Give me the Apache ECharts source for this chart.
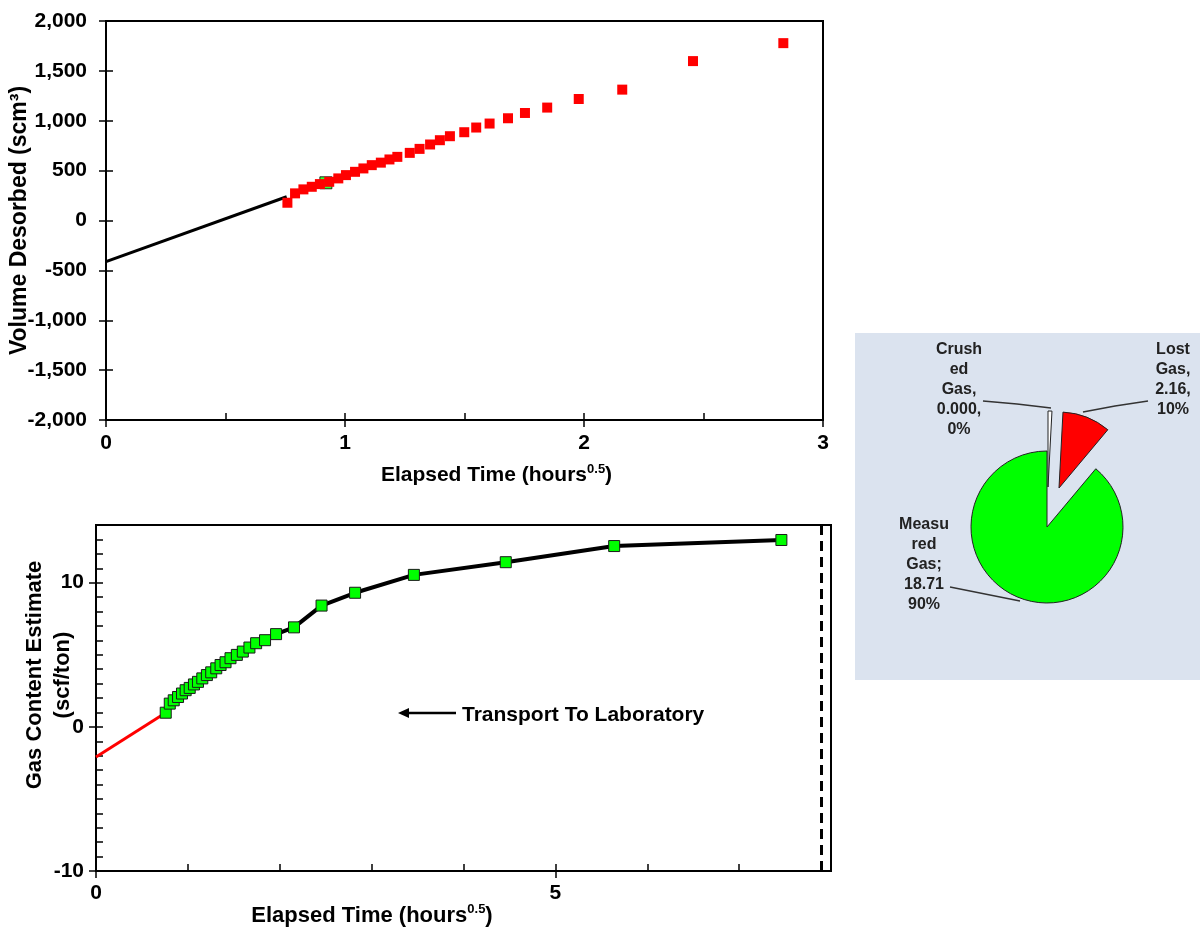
<!DOCTYPE html>
<html>
<head>
<meta charset="utf-8">
<script src="https://cdn.jsdelivr.net/npm/echarts@6/dist/echarts.min.js"></script>
<style>
  html, body { margin: 0; padding: 0; background: #fff; }
  #chart { width: 1200px; height: 931px; }
</style>
</head>
<body>
<div id="chart"></div>
<script>
// Desorption measurements (square root of elapsed time vs. volume desorbed)
const desorbTime = [0.759, 0.791, 0.826, 0.861, 0.895, 0.934, 0.972, 1.004, 1.042, 1.077,
  1.112, 1.150, 1.186, 1.219, 1.271, 1.312, 1.356, 1.397, 1.439, 1.499,
  1.549, 1.605, 1.682, 1.753, 1.846, 1.978, 2.160, 2.456, 2.834];
const desorbVolume = [178, 272, 312, 338, 365, 388, 422, 455, 488, 522,
  555, 580, 612, 638, 678, 718, 762, 805, 845, 885,
  932, 972, 1025, 1078, 1132, 1218, 1312, 1598, 1778];
// Lost-gas regression line back to time zero
const fitTime = [0, 0.756];
const fitVolume = [-412, 238];
// Highlighted point used by the fit
const pickedTime = [0.92];
const pickedVolume = [378];

// Cumulative gas content estimate
const contentTime = [0.759, 0.803, 0.846, 0.893, 0.936, 0.976, 1.020, 1.066, 1.110, 1.157,
  1.207, 1.254, 1.309, 1.356, 1.410, 1.464, 1.533, 1.598, 1.670, 1.743,
  1.840, 1.960, 2.155, 2.455, 2.820, 3.460, 4.460, 5.640, 7.460];
const contentValue = [0.98, 1.61, 1.84, 2.07, 2.31, 2.54, 2.70, 2.94, 3.12, 3.36,
  3.59, 3.78, 4.06, 4.29, 4.48, 4.76, 4.99, 5.22, 5.50, 5.80,
  6.01, 6.43, 6.90, 8.41, 9.30, 10.54, 11.42, 12.54, 12.96];
// Lost-gas extrapolation on the content plot
const lostTime = [0, 0.759];
const lostValue = [-2.1, 0.98];
// End of transport to laboratory
const transportEnd = 7.886;

// Tick values
const bottomXLabels = [0, 5];
const bottomYLabels = [-10, 0, 10];

// Gas content breakdown
const sliceNames = ['Crushed Gas', 'Lost Gas', 'Measured Gas'];
const sliceValues = [0, 2.16, 18.71];
const sliceColors = ['#ffffff', '#ff0000', '#00ff00'];
const sliceNameLines = [['Crush', 'ed', 'Gas,'], ['Lost', 'Gas,'], ['Measu', 'red', 'Gas;']];
const sliceDigits = [3, 2, 2];
const sliceValueSep = [',', ',', ''];

const pairs = (xs, ys) => xs.map((x, i) => [x, ys[i]]);

const FONT = "'Liberation Sans', Arial, sans-serif";
const bold = (size) => ({ fontFamily: FONT, fontWeight: 'bold', fontSize: size, color: '#000' });

const supRich = (size) => ({
  t: { fontFamily: FONT, fontWeight: 'bold', fontSize: size, color: '#000', lineHeight: size + 4 },
  s: { fontFamily: FONT, fontWeight: 'bold', fontSize: Math.round(size * 0.6), color: '#000', verticalAlign: 'top', lineHeight: size + 4 }
});

const tickStyle = { color: '#000', width: 1.5 };

// Pie slices are drawn one series each so the exploded ones can sit on their own centre
const PIE_R = 76;
const pieCenters = [[1048, 487], [1059, 488], [1047, 527]];
const labelSpots = [
  { x: 959, y: 390, pts: [[983, 401], [1017, 404], [1051, 408]] },
  { x: 1173, y: 380, pts: [[1148, 401], [1115, 406], [1083, 412]] },
  { x: 924, y: 565, pts: [[950, 587], [985, 594], [1020, 601]] }
];

function sliceSeries(own) {
  return {
    type: 'pie', name: sliceNames[own],
    center: pieCenters[own], radius: PIE_R,
    startAngle: 90, clockwise: true, minAngle: 3,
    avoidLabelOverlap: false,
    emphasis: { disabled: true },
    silent: true,
    data: sliceNames.map((n, i) => ({
      name: n, value: sliceValues[i],
      itemStyle: i === own
        ? { color: sliceColors[i], borderColor: '#222', borderWidth: 1 }
        : { color: 'rgba(0,0,0,0)', borderWidth: 0 },
      label: { show: i === own },
      labelLine: { show: i === own }
    })),
    label: {
      position: 'outside',
      fontFamily: FONT, fontWeight: 'bold', fontSize: 16, lineHeight: 20, color: '#222',
      align: 'center',
      formatter: (p) => sliceNameLines[p.dataIndex]
        .concat([p.value.toFixed(sliceDigits[p.dataIndex]) + sliceValueSep[p.dataIndex],
                 Math.round(p.percent) + '%'])
        .join('\n')
    },
    labelLine: { lineStyle: { color: '#333', width: 1.5 } },
    labelLayout: (p) => {
      const s = labelSpots[p.dataIndex];
      return { x: s.x, y: s.y, align: 'center', verticalAlign: 'middle', labelLinePoints: s.pts };
    },
    z: 3
  };
}

const chart = echarts.init(document.getElementById('chart'), null, { renderer: 'canvas' });

const option = {
  animation: false,
  backgroundColor: '#fff',
  grid: [
    { left: 106, top: 21, width: 717, height: 399, show: true, borderColor: '#000', borderWidth: 2,
      backgroundColor: 'transparent', outerBoundsMode: 'none', containLabel: false },
    { left: 96, top: 525, width: 735, height: 346, show: true, borderColor: '#000', borderWidth: 2,
      backgroundColor: 'transparent', outerBoundsMode: 'none', containLabel: false }
  ],
  xAxis: [
    { // top: labels and outward ticks
      type: 'value', gridIndex: 0, position: 'bottom', min: 0, max: 3, interval: 1,
      axisLine: { onZero: false, lineStyle: { color: '#000', width: 2 } },
      axisTick: { show: true, length: 7, lineStyle: tickStyle },
      axisLabel: Object.assign(bold(21), { margin: 13 }),
      splitLine: { show: false },
      name: '{t|Elapsed Time (hours}{s|0.5}{t|)}',
      nameLocation: 'middle', nameGap: 43, nameMoveOverlap: false,
      nameTextStyle: { rich: supRich(21), padding: [0, 0, 0, 64] }
    },
    { // top: inward ticks every 0.5
      type: 'value', gridIndex: 0, position: 'bottom', min: 0, max: 3, interval: 0.5,
      axisLine: { show: false, onZero: false },
      axisTick: { show: true, inside: true, length: 7, lineStyle: tickStyle },
      axisLabel: { show: false }, splitLine: { show: false }
    },
    { // bottom: labels and outward major ticks
      type: 'value', gridIndex: 1, position: 'bottom', min: 0, max: 8,
      axisLine: { onZero: false, lineStyle: { color: '#000', width: 2 } },
      axisTick: { show: true, length: 7, customValues: bottomXLabels, lineStyle: tickStyle },
      axisLabel: Object.assign(bold(21), { margin: 12, customValues: bottomXLabels }),
      splitLine: { show: false },
      name: '{t|Elapsed Time (hours}{s|0.5}{t|)}',
      nameLocation: 'middle', nameGap: 32, nameMoveOverlap: false,
      nameTextStyle: { rich: supRich(22), padding: [0, 183, 0, 0] }
    },
    { // bottom: inward ticks every unit
      type: 'value', gridIndex: 1, position: 'bottom', min: 0, max: 8, interval: 1,
      axisLine: { show: false, onZero: false },
      axisTick: { show: true, inside: true, length: 7, lineStyle: tickStyle },
      axisLabel: { show: false }, splitLine: { show: false }
    }
  ],
  yAxis: [
    {
      type: 'value', gridIndex: 0, position: 'left', min: -2000, max: 2000, interval: 500,
      axisLine: { show: true, onZero: false, lineStyle: { color: '#000', width: 2 } },
      axisTick: { show: true, length: 7, lineStyle: tickStyle },
      axisLabel: Object.assign(bold(21), {
        margin: 19,
        formatter: (v) => v.toLocaleString('en-US')
      }),
      splitLine: { show: false },
      name: 'Volume Desorbed (scm³)',
      nameLocation: 'middle', nameGap: 75, nameRotate: 90, nameMoveOverlap: false,
      nameTextStyle: bold(23)
    },
    {
      type: 'value', gridIndex: 0, position: 'left', min: -2000, max: 2000, interval: 500,
      axisLine: { show: false, onZero: false },
      axisTick: { show: true, inside: true, length: 7, lineStyle: tickStyle },
      axisLabel: { show: false }, splitLine: { show: false }
    },
    {
      type: 'value', gridIndex: 1, position: 'left', min: -10, max: 14,
      axisLine: { show: true, onZero: false, lineStyle: { color: '#000', width: 2 } },
      axisTick: { show: true, length: 7, customValues: bottomYLabels, lineStyle: tickStyle },
      axisLabel: Object.assign(bold(21), { margin: 12, customValues: bottomYLabels }),
      splitLine: { show: false },
      name: 'Gas Content Estimate\n(scf/ton)',
      nameLocation: 'middle', nameGap: 19, nameRotate: 90, nameMoveOverlap: false,
      nameTextStyle: Object.assign(bold(22), { lineHeight: 28, padding: [0, 0, 0, 46] })
    },
    {
      type: 'value', gridIndex: 1, position: 'left', min: -10, max: 14, interval: 1,
      axisLine: { show: false, onZero: false },
      axisTick: { show: true, inside: true, length: 7, lineStyle: tickStyle },
      axisLabel: { show: false }, splitLine: { show: false }
    }
  ],
  series: [
    {
      type: 'line', name: 'Lost gas fit', xAxisIndex: 0, yAxisIndex: 0,
      data: pairs(fitTime, fitVolume), showSymbol: false,
      lineStyle: { color: '#000', width: 3 }, z: 2
    },
    {
      type: 'scatter', name: 'Fit point', xAxisIndex: 0, yAxisIndex: 0,
      data: pairs(pickedTime, pickedVolume), symbol: 'rect', symbolSize: 12,
      itemStyle: { color: '#00ff00', borderColor: '#000', borderWidth: 1 }, z: 3
    },
    {
      type: 'scatter', name: 'Desorbed', xAxisIndex: 0, yAxisIndex: 0,
      data: pairs(desorbTime, desorbVolume), symbol: 'rect', symbolSize: 10,
      itemStyle: { color: '#ff0000', opacity: 1 }, z: 4
    },
    {
      type: 'line', name: 'Lost gas', xAxisIndex: 2, yAxisIndex: 2,
      data: pairs(lostTime, lostValue), showSymbol: false,
      lineStyle: { color: '#ff0000', width: 3 }, z: 2
    },
    {
      type: 'line', name: 'Gas content', xAxisIndex: 2, yAxisIndex: 2,
      data: pairs(contentTime, contentValue),
      symbol: 'rect', symbolSize: 11, showAllSymbol: true,
      lineStyle: { color: '#000', width: 4 },
      itemStyle: { color: '#00ff00', borderColor: '#1a1a1a', borderWidth: 1 },
      z: 3,
      markLine: {
        silent: true, symbol: 'none', label: { show: false },
        lineStyle: { color: '#000', width: 3, type: [10, 6] },
        data: [{ xAxis: transportEnd }]
      }
    },
    sliceSeries(2),
    sliceSeries(1),
    sliceSeries(0)
  ],
  graphic: [
    {
      type: 'rect', z: -10,
      shape: { x: 855, y: 333, width: 345, height: 347 },
      style: { fill: '#dbe3ef' }
    },
    {
      type: 'line', z: 10,
      shape: { x1: 406, y1: 713, x2: 456, y2: 713 },
      style: { stroke: '#000', lineWidth: 2.5 }
    },
    {
      type: 'polygon', z: 10,
      shape: { points: [[398, 713], [409, 708], [409, 718]] },
      style: { fill: '#000' }
    },
    {
      type: 'text', z: 10, x: 462, y: 715,
      style: {
        text: 'Transport To Laboratory', fill: '#000',
        font: "bold 21px 'Liberation Sans', Arial, sans-serif",
        verticalAlign: 'middle', align: 'left'
      }
    }
  ]
};

chart.setOption(option);
</script>
</body>
</html>
